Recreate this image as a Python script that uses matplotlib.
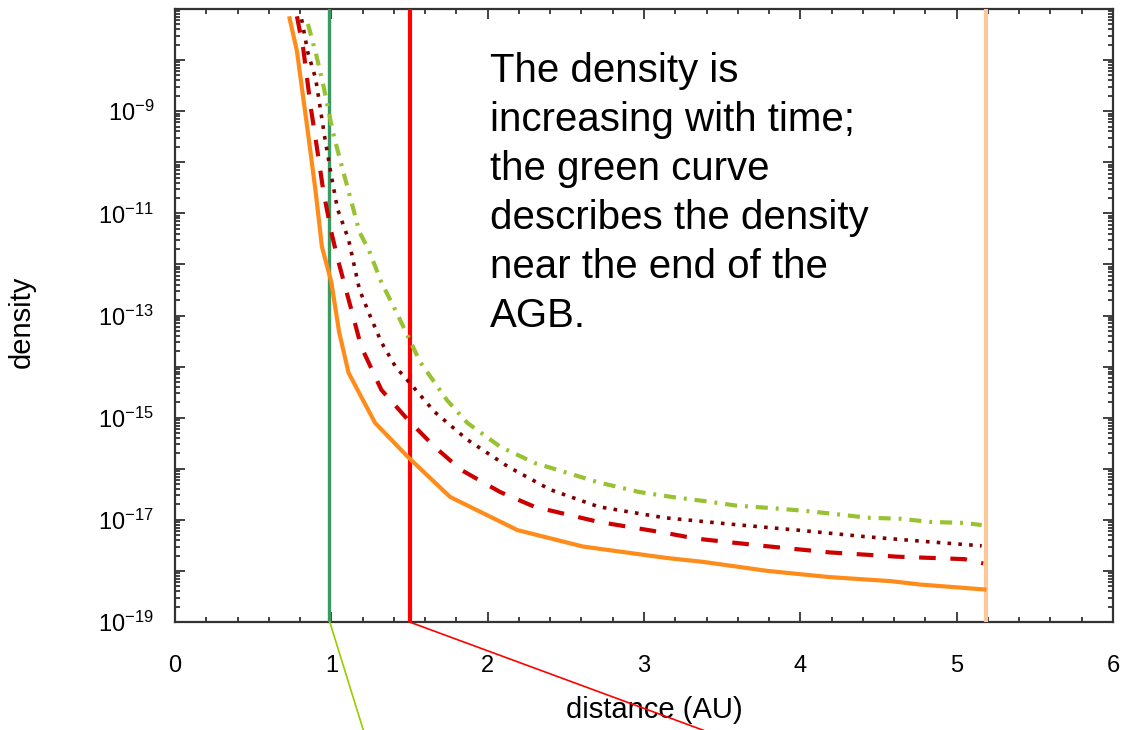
import numpy as np
import matplotlib
matplotlib.use("Agg")
import matplotlib.pyplot as plt
from matplotlib.ticker import LogLocator, FuncFormatter, MultipleLocator, NullFormatter

plt.rcParams['font.family'] = ['Liberation Sans', 'DejaVu Sans']
plt.rcParams['mathtext.fontset'] = 'custom'
plt.rcParams['mathtext.rm'] = 'Liberation Sans'
plt.rcParams['mathtext.it'] = 'Liberation Sans:italic'
plt.rcParams['mathtext.bf'] = 'Liberation Sans:bold'

# ---- data (distance in AU, density) ----
orange_x = [0.73, 0.78, 0.85, 0.90, 0.94, 1.00, 1.05, 1.11, 1.19, 1.28, 1.49, 1.76,
            2.19, 2.61, 3.14, 3.38, 3.79, 4.18, 4.58, 4.77, 5.19]
orange_y = [7.2e-8, 1.5e-8, 3.9e-10, 2.6e-11, 2.2e-12, 4.5e-13, 4.7e-14, 7.6e-15,
            2.6e-15, 7.9e-16, 1.7e-16, 2.8e-17, 6.3e-18, 3.0e-18, 1.8e-18, 1.5e-18,
            1.0e-18, 7.6e-19, 6.3e-19, 5.4e-19, 4.3e-19]

red_x = [0.78, 0.82, 0.87, 0.90, 0.95, 1.00, 1.04, 1.14, 1.19, 1.32, 1.49, 1.66, 1.83,
         2.08, 2.30, 2.71, 3.13, 3.33, 3.76, 4.19, 4.62, 5.05, 5.17]
red_y = [7.2e-8, 1.7e-8, 1.1e-9, 2.8e-10, 2.6e-11, 4.3e-12, 1.3e-12, 9.5e-14, 2.5e-14,
         3.5e-15, 9.1e-16, 2.7e-16, 9.5e-17, 3.5e-17, 1.8e-17, 9.1e-18, 5.6e-18,
         4.3e-18, 3.1e-18, 2.3e-18, 1.9e-18, 1.7e-18, 1.4e-18]

maroon_x = [0.81, 0.85, 0.90, 0.93, 0.96, 1.00, 1.04, 1.11, 1.18, 1.25, 1.32, 1.41,
            1.54, 1.66, 1.87, 2.13, 2.40, 2.71, 3.13, 3.54, 3.98, 4.41, 4.83, 5.16]
maroon_y = [6.3e-8, 1.4e-8, 4.3e-9, 1.1e-9, 2.8e-10, 5.4e-11, 1.2e-11, 3.1e-12,
            3.2e-13, 9.5e-14, 3.0e-14, 1.0e-14, 3.5e-15, 1.3e-15, 3.7e-16, 1.1e-16,
            3.9e-17, 1.8e-17, 1.1e-17, 8.3e-18, 6.3e-18, 4.7e-18, 3.7e-18, 3.1e-18]

green_x = [0.85, 0.90, 0.95, 0.98, 1.01, 1.06, 1.12, 1.18, 1.24, 1.32, 1.43, 1.49,
           1.57, 1.66, 1.74, 1.87, 2.08, 2.30, 2.51, 2.71, 2.97, 3.18, 3.40, 3.59,
           3.81, 4.03, 4.22, 4.43, 4.64, 4.83, 5.05, 5.16]
green_y = [5.1e-8, 1.4e-8, 3.1e-9, 1.1e-9, 3.9e-10, 1.0e-10, 2.1e-11, 4.3e-12,
           1.9e-12, 4.5e-13, 9.5e-14, 3.9e-14, 1.2e-14, 4.9e-15, 2.2e-15, 7.9e-16,
           2.7e-16, 1.3e-16, 8.3e-17, 5.4e-17, 3.5e-17, 2.8e-17, 2.3e-17, 1.9e-17,
           1.7e-17, 1.5e-17, 1.3e-17, 1.1e-17, 1.05e-17, 9.1e-18, 8.7e-18, 7.9e-18]

# vertical markers (AU)
vline_green = 0.985
vline_red = 1.50
vline_peach = 5.19

# thin lines below the axes (x in AU, y in density units)
thin_green_x = [0.99, 1.205]
thin_green_y = [1e-19, 10 ** -21.12]
thin_red_x = [1.50, 3.38]
thin_red_y = [1e-19, 10 ** -21.12]

annotation = ("The density is\nincreasing with time;\nthe green curve\n"
              "describes the density\nnear the end of the\nAGB.")

labelled_exponents = [-19, -17, -15, -13, -11, -9]

xlim = (0, 6)
ylim = (1e-19, 1e-7)

# ---- figure ----
fig = plt.figure(figsize=(11.31, 7.30), dpi=100)
ax = fig.add_axes([175 / 1131, (730 - 622) / 730, (1113 - 175) / 1131, (622 - 9) / 730])

ax.set_yscale('log')
ax.set_xlim(*xlim)
ax.set_ylim(*ylim)

ax.axvline(vline_green, color='#3a9a62', lw=2.4, zorder=3)
ax.axvline(vline_red, color='#ff0000', lw=3.0, zorder=3)
ax.axvline(vline_peach, color='#fdc898', lw=3.0, zorder=3)

ax.plot(orange_x, orange_y, color='#ff8c1a', lw=3.0, solid_capstyle='butt', zorder=4)
ax.plot(red_x, red_y, color='#cc0000', lw=3.0, dashes=(4, 3.5), zorder=4)
ax.plot(maroon_x, maroon_y, color='#800000', lw=2.6, dashes=(1.0, 2.0), zorder=4)
ax.plot(green_x, green_y, color='#99c233', lw=3.0, dashes=(2.9, 1.9, 0.7, 1.9), zorder=4)

ax.plot(thin_green_x, thin_green_y, color='#99cc00', lw=1.2, clip_on=False, zorder=6)
ax.plot(thin_red_x, thin_red_y, color='#ff0000', lw=1.2, clip_on=False, zorder=6)

ax.text((490 - 175) / 938, 0.93, annotation, transform=ax.transAxes,
        fontsize=29, ha='left', va='top', linespacing=1.37, color='black')

# ticks
ax.xaxis.set_major_locator(MultipleLocator(1))
ax.xaxis.set_minor_locator(MultipleLocator(0.2))
ax.yaxis.set_major_locator(LogLocator(base=10, subs=(1.0,), numticks=40))
ax.yaxis.set_minor_locator(LogLocator(base=10, subs=np.arange(2, 10), numticks=40))
ax.yaxis.set_minor_formatter(NullFormatter())


def yfmt(v, pos):
    e = int(round(np.log10(v)))
    if e in labelled_exponents:
        return r'$\mathregular{10^{%d}}$' % e
    return ''


ax.yaxis.set_major_formatter(FuncFormatter(yfmt))

tick_color = '#333333'
ax.tick_params(which='both', direction='in', top=True, right=True, color=tick_color,
               width=1.3)
ax.tick_params(which='major', length=7.5)
ax.tick_params(which='minor', length=3.8)
ax.tick_params(axis='x', which='major', labelsize=17, pad=24)
ax.tick_params(axis='y', which='major', labelsize=17, pad=15)

for s in ax.spines.values():
    s.set_color(tick_color)
    s.set_linewidth(1.6)

ax.set_xlabel('distance (AU)', fontsize=21)
ax.set_ylabel('density', fontsize=21)
ax.xaxis.set_label_coords(0.511, -0.12)
ax.yaxis.set_label_coords(-0.148, 0.49)

fig.savefig('out.png', dpi=100)
